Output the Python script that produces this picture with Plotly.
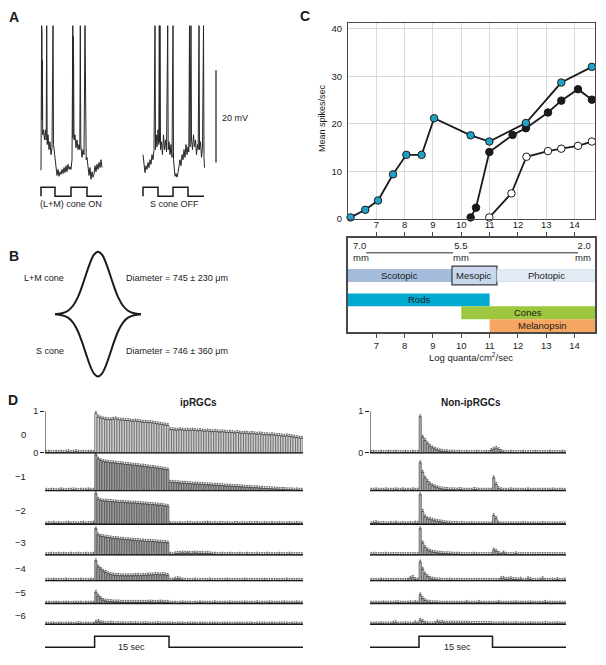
import numpy as np
import plotly.graph_objects as go

# The page body has an 8 px margin, so the figure is drawn 8 px smaller and
# every reference pixel position p is mapped to figure pixel p - 8.
PAGE_OFF = 8
W, H = 606 - PAGE_OFF, 665 - PAGE_OFF
FONT = "Liberation Sans, Arial, Helvetica, sans-serif"
INK = "#1a1a1a"


def fx(p):
    return (p - PAGE_OFF) / W


def fy(p):
    return 1 - (p - PAGE_OFF) / H


def dom_x(a, b):
    return [fx(a), fx(b)]


def dom_y(top, bottom):
    return [fy(bottom), fy(top)]


# ======================= Panel A data (time ms, mV above rest) =======================
lm_t = [0, 6, 8, 10, 12, 14, 17, 25, 35, 45, 52, 57, 62, 70, 80, 90, 100, 110, 120, 125, 132, 140,
        148, 155, 160, 170, 180, 190, 200, 210, 220, 230, 240, 250, 260, 270, 280, 290, 300, 310,
        318, 320, 322, 324, 326, 330, 340, 350, 360, 370, 380, 388, 393, 398, 410, 420, 430, 440,
        445, 452, 460, 470, 480, 490, 500, 510, 520, 530, 540, 550, 560, 570, 580, 590, 600, 610]
lm_v = [0.9, 32.3, 8.0, 31.0, 11.8, 24.7, 8.6, 9.7, 7.5, 9.7, 7.5, 32.3, 6.5, 8.6, 5.4, 7.1, 4.3,
        5.8, 32.3, 6.5, 4.9, 3.2, 1.5, 0.6, -0.2, 1.1, -0.4, 0.6, 0.0, 1.1, 0.2, 1.5, 0.4, 1.9, 0.6,
        2.2, 1.1, 1.7, 1.1, 3.2, 32.3, 8.0, 30.0, 16.1, 24.7, 7.5, 8.6, 5.8, 7.5, 5.4, 6.5, 5.4,
        32.3, 6.5, 3.7, 5.4, 4.3, 32.3, 5.4, 3.2, 3.7, 1.1, -0.2, 1.5, -1.1, 0.6, -0.6, 0.0, 1.9,
        0.6, 2.2, 1.1, 2.6, 1.5, 3.2, 1.5]
s_t = [1020, 1030, 1040, 1050, 1060, 1070, 1080, 1090, 1100, 1110, 1120, 1130, 1140, 1145, 1152,
       1160, 1170, 1178, 1183, 1186, 1190, 1195, 1205, 1215, 1225, 1235, 1245, 1255, 1267, 1272,
       1280, 1290, 1300, 1310, 1320, 1325, 1332, 1340, 1350, 1360, 1370, 1380, 1390, 1400, 1410,
       1420, 1430, 1440, 1450, 1460, 1470, 1478, 1485, 1490, 1495, 1500, 1505, 1515, 1525, 1535,
       1545, 1555, 1565, 1572, 1580, 1585, 1595, 1605, 1615, 1625, 1630, 1635]
s_v = [4.3, 2.6, 0.4, 1.9, 1.1, 2.6, 1.5, 3.2, 2.2, 4.3, 3.2, 5.4, 32.3, 5.4, 8.6, 6.0, 9.7, 6.5,
       32.3, 7.0, 32.3, 5.4, 7.1, 4.3, 8.6, 5.4, 7.5, 4.9, 32.3, 5.4, 7.1, 4.3, 6.5, 3.7, 32.3, 3.2,
       0.2, -0.4, 0.2, -0.6, 0.4, 2.2, 3.2, 1.9, 4.3, 3.2, 5.4, 3.7, 6.5, 4.3, 6.0, 4.9, 32.3, 6.0,
       31.0, 32.3, 7.5, 5.4, 8.6, 6.0, 7.5, 4.3, 6.5, 5.4, 32.3, 5.4, 7.1, 3.7, 5.8, 32.3, 3.7, 1.5]
lm_stim_t = [0, 0, 140, 140, 300, 300, 460, 460, 610]
lm_stim_v = [0, 1, 1, 0, 0, 1, 1, 0, 0]
s_stim_t = [1020, 1020, 1170, 1170, 1320, 1320, 1470, 1470, 1630]
s_stim_v = [0, 1, 1, 0, 0, 1, 1, 0, 0]
scale_bar_mv = 20

# ======================= Panel B data =======================
rf_x = [-43, -36, -30, -25, -20, -16, -12, -8, -4, 0, 4, 8, 12, 16, 20, 25, 30, 36, 43]
rf_lm = [0, 1, 3.5, 8.5, 17.5, 28, 40, 51.6, 60, 63, 60, 51.6, 40, 28, 17.5, 8.5, 3.5, 1, 0]
rf_s = [0, -1, -3.5, -8.5, -17.5, -28, -40, -51.6, -60, -63, -60, -51.6, -40, -28, -17.5, -8.5,
        -3.5, -1, 0]

# ======================= Panel C data =======================
cyan_x = [6.09, 6.61, 7.06, 7.59, 8.06, 8.6, 9.04, 10.33, 10.99, 12.28, 13.53, 14.61]
cyan_y = [0.35, 1.95, 3.9, 9.4, 13.5, 13.5, 21.2, 17.6, 16.3, 20.2, 28.7, 32.0]
black_x = [10.33, 10.52, 10.99, 11.81, 12.28, 13.06, 13.53, 14.12, 14.61]
black_y = [0.35, 2.4, 14.1, 17.7, 19.1, 22.4, 24.9, 27.3, 25.1]
white_x = [10.99, 11.77, 12.3, 13.06, 13.53, 14.12, 14.61]
white_y = [0.35, 5.4, 13.1, 14.3, 14.8, 15.4, 16.3]
log_ticks = [7, 8, 9, 10, 11, 12, 13, 14]
rate_ticks = [0, 10, 20, 30, 40]

vision_names = ["Scotopic", "Mesopic", "Photopic"]
vision_start = [6.0, 9.67, 11.26]
vision_end = [9.67, 11.26, 14.72]
receptor_names = ["Rods", "Cones", "Melanopsin"]
receptor_start = [6.0, 10.0, 11.0]
receptor_end = [11.0, 14.72, 14.72]
pupil_labels = ["7.0", "5.5", "2.0"]

# ======================= Panel D data (% of max, 0.5 s bins) =======================
ip_rows = [
    [1, 2, 1, 1, 2, 1, 2, 1, 2, 3, 1, 2, 3, 2, 1, 2, 1, 2, 2, 1,
     95, 86, 84, 82, 81, 80, 80, 81, 82, 80, 79, 79, 78, 78, 77, 76, 77, 76, 75, 74, 74, 73, 73, 72,
     71, 70, 69, 68, 67, 66,
     56, 56, 55, 55, 56, 55, 54, 55, 54, 55, 54, 53, 54, 53, 52, 53, 52, 51, 52, 51, 50, 51, 50, 49,
     50, 49, 48, 49, 48, 47, 48, 47, 46, 47, 46, 45, 46, 45, 44, 44, 43, 44, 43, 42, 42, 41, 40, 41,
     40, 39, 38, 37, 36, 35],
    [1, 0, 1, 1, 0, 1, 2, 1, 0, 1, 1, 2, 1, 0, 1, 1, 1, 2, 1, 1,
     86, 76, 72, 70, 69, 68, 67, 67, 66, 65, 65, 64, 63, 63, 62, 61, 61, 60, 59, 59, 58, 57, 56, 56,
     55, 54, 53, 52, 51, 50,
     20, 20, 19, 19, 18, 18, 18, 17, 17, 16, 16, 16, 15, 15, 14, 14, 14, 13, 13, 13, 12, 12, 11, 11,
     11, 10, 10, 10, 9, 9, 8, 8, 8, 7, 7, 7, 6, 6, 5, 5, 5, 4, 4, 4, 3, 3, 3, 2, 2, 2, 1, 2, 1, 1],
    [1, 2, 1, 3, 1, 2, 1, 1, 2, 3, 1, 2, 1, 1, 2, 3, 1, 2, 2, 3,
     74, 60, 57, 56, 56, 55, 55, 54, 54, 53, 53, 53, 52, 52, 51, 51, 51, 50, 50, 49, 49, 48, 48, 47,
     47, 46, 46, 45, 44, 43,
     2, 1, 1, 1, 2, 1, 1, 2, 2, 1, 1, 2, 1, 2, 2, 3, 2, 1, 2, 1, 2, 2, 1, 2, 1, 1, 2, 2, 1, 2, 1, 1,
     2, 1, 2, 2, 1, 1, 2, 1, 1, 2, 1, 1, 2, 1, 1, 1, 2, 1, 1, 2, 1, 1],
    [1, 1, 2, 1, 1, 2, 1, 2, 1, 1, 2, 1, 1, 2, 1, 1, 2, 1, 1, 2,
     63, 48, 45, 44, 43, 42, 41, 40, 40, 39, 38, 38, 37, 37, 36, 36, 35, 35, 34, 34, 33, 33, 33, 32,
     32, 31, 31, 30, 30, 29,
     2, 1, 3, 4, 4, 5, 4, 5, 4, 4, 5, 4, 4, 4, 3, 4, 3, 2, 2, 1, 1, 2, 1, 1, 2, 1, 1, 1, 2, 1, 1, 2,
     1, 1, 1, 2, 1, 1, 1, 2, 1, 1, 1, 1, 2, 1, 1, 1, 2, 1, 1, 1, 1, 1],
    [1, 1, 1, 2, 1, 1, 1, 1, 2, 1, 1, 1, 1, 1, 2, 1, 1, 1, 2, 1,
     48, 33, 28, 23, 20, 17, 15, 14, 13, 13, 12, 12, 12, 12, 12, 12, 13, 13, 12, 13, 13, 14, 14, 14,
     15, 15, 14, 15, 14, 13,
     1, 2, 4, 5, 4, 2, 1, 1, 1, 1, 2, 1, 1, 1, 1, 1, 2, 1, 1, 1, 1, 1, 1, 2, 1, 1, 1, 1, 1, 1, 2, 1,
     1, 1, 1, 1, 1, 1, 2, 1, 1, 1, 1, 1, 1, 1, 1, 2, 1, 1, 1, 1, 1, 1],
    [1, 1, 0, 1, 1, 1, 0, 1, 1, 1, 0, 1, 1, 1, 1, 0, 1, 1, 1, 1,
     27, 18, 12, 8, 6, 5, 5, 4, 4, 4, 3, 3, 3, 3, 3, 3, 3, 3, 3, 3, 3, 3, 4, 3, 3, 3, 4, 3, 3, 3,
     1, 1, 1, 0, 1, 2, 1, 1, 1, 0, 1, 1, 2, 1, 1, 1, 1, 1, 2, 1, 1, 1, 1, 1, 2, 1, 1, 1, 1, 1, 2, 1,
     1, 1, 1, 2, 1, 1, 1, 1, 2, 1, 1, 1, 1, 1, 2, 1, 1, 1, 1, 2, 1, 1],
    [1, 0, 1, 1, 0, 1, 1, 0, 1, 1, 1, 0, 1, 2, 1, 0, 1, 1, 0, 1,
     5, 7, 4, 3, 2, 2, 3, 2, 1, 2, 1, 2, 1, 1, 2, 1, 2, 1, 1, 1, 2, 1, 1, 1, 1, 2, 1, 1, 1, 1,
     1, 1, 0, 1, 1, 1, 0, 1, 1, 1, 1, 0, 1, 1, 1, 0, 1, 1, 1, 1, 0, 1, 1, 1, 1, 0, 1, 1, 1, 1, 0, 1,
     1, 1, 0, 1, 1, 1, 1, 0, 1, 1, 1, 0, 1, 1, 1, 1, 0, 1, 1, 1, 0, 1],
]
non_rows = [
    [1, 2, 1, 1, 2, 1, 1, 2, 1, 1, 2, 1, 1, 1, 2, 1, 1, 2, 1, 1,
     87, 38, 30, 22, 16, 12, 9, 7, 5, 4, 3, 3, 2, 2, 2, 1, 2, 1, 1, 2, 1, 1, 1, 2, 1, 1, 1, 2, 1, 6,
     9, 11, 8, 4, 2, 1, 1, 2, 1, 1, 1, 1, 2, 1, 1, 1, 1, 2, 1, 1, 1, 1, 1, 2, 1, 1, 1, 1, 2, 1],
    [1, 1, 2, 1, 1, 1, 2, 1, 1, 1, 2, 1, 1, 2, 1, 1, 1, 2, 1, 1,
     67, 44, 30, 22, 16, 12, 9, 7, 5, 4, 3, 3, 2, 2, 2, 1, 3, 2, 1, 1, 1, 1, 3, 2, 1, 1, 1, 1, 1, 1,
     31, 15, 5, 2, 1, 1, 1, 2, 1, 1, 1, 1, 1, 1, 2, 1, 1, 1, 1, 1, 1, 1, 1, 1, 2, 1, 1, 1, 1, 1],
    [1, 3, 4, 2, 1, 2, 1, 1, 2, 1, 3, 1, 1, 2, 1, 1, 2, 1, 3, 2,
     71, 31, 18, 13, 12, 10, 8, 7, 6, 5, 4, 3, 3, 2, 2, 2, 1, 2, 1, 1, 1, 2, 1, 1, 1, 1, 1, 1, 1, 1,
     21, 14, 3, 1, 1, 1, 1, 1, 1, 1, 1, 1, 2, 1, 1, 1, 1, 1, 1, 1, 2, 1, 1, 1, 1, 1, 1, 1, 1, 1],
    [1, 2, 1, 1, 1, 1, 2, 1, 1, 1, 1, 1, 1, 1, 1, 1, 1, 1, 1, 1,
     63, 29, 18, 12, 9, 7, 6, 5, 4, 4, 3, 3, 3, 2, 2, 2, 2, 1, 1, 1, 1, 1, 2, 1, 1, 1, 1, 1, 1, 1,
     12, 9, 4, 2, 5, 2, 1, 1, 1, 3, 1, 1, 1, 1, 1, 1, 1, 1, 1, 1, 1, 1, 1, 1, 1, 1, 1, 1, 1, 1],
    [1, 1, 1, 1, 2, 1, 1, 1, 1, 1, 1, 1, 1, 1, 1, 2, 6, 8, 3, 2,
     45, 28, 16, 10, 6, 4, 3, 2, 2, 1, 1, 1, 2, 1, 1, 1, 1, 1, 1, 1, 1, 1, 1, 1, 1, 1, 1, 1, 1, 1,
     1, 1, 1, 5, 6, 3, 4, 5, 3, 3, 2, 4, 1, 1, 5, 3, 1, 1, 1, 2, 5, 1, 1, 1, 2, 1, 3, 1, 1, 2],
    [1, 1, 1, 1, 1, 2, 1, 1, 1, 1, 2, 2, 1, 1, 1, 1, 2, 1, 3, 1,
     21, 12, 7, 4, 3, 2, 2, 2, 1, 1, 1, 1, 1, 1, 1, 1, 1, 1, 1, 3, 1, 1, 1, 1, 3, 1, 1, 1, 1, 1,
     1, 1, 3, 1, 1, 1, 1, 1, 1, 2, 1, 1, 1, 1, 1, 2, 1, 1, 1, 1, 1, 3, 1, 1, 1, 1, 1, 1, 1, 1],
    [1, 1, 1, 1, 2, 1, 1, 1, 1, 3, 4, 1, 1, 1, 2, 1, 1, 1, 4, 1,
     10, 7, 3, 2, 1, 1, 2, 6, 4, 5, 3, 3, 3, 3, 3, 3, 3, 3, 3, 3, 3, 2, 2, 2, 2, 2, 2, 2, 2, 2,
     1, 1, 1, 1, 2, 1, 1, 1, 1, 2, 1, 1, 1, 1, 1, 2, 1, 1, 1, 1, 1, 2, 1, 1, 1, 1, 2, 1, 1, 1],
]
row_labels = ["0", "\u22121", "\u22122", "\u22123", "\u22124", "\u22125", "\u22126"]
bin_w = 0.5
ip_t_start, ip_t_end = -10, 42
non_t_start, non_t_end = -10, 30
light_on, light_off = 0, 15

# ======================= layout constants =======================
ROW_BASE = [4.119, 3.214, 2.405, 1.667, 1.048, 0.5, 0.0]
ROW_LABEL_PX = [437, 480, 514, 546, 573, 597, 620]

fig = go.Figure()

# ---------- Panel A ----------
for t, v in ((lm_t, lm_v), (s_t, s_v)):
    fig.add_trace(go.Scatter(x=t, y=v, mode="lines", line=dict(color="#262626", width=1),
                             xaxis="x", yaxis="y", hoverinfo="skip"))
for t, v in ((lm_stim_t, lm_stim_v), (s_stim_t, s_stim_v)):
    fig.add_trace(go.Scatter(x=t, y=v, mode="lines", line=dict(color=INK, width=1.5),
                             xaxis="x", yaxis="y2", hoverinfo="skip"))
fig.add_trace(go.Scatter(x=[1750, 1750], y=[2.6, 2.6 + scale_bar_mv], mode="lines",
                         line=dict(color="#444", width=1.5), xaxis="x", yaxis="y", hoverinfo="skip"))

# ---------- Panel B ----------
for yy in (rf_lm, rf_s):
    fig.add_trace(go.Scatter(x=rf_x, y=yy, mode="lines", line=dict(color=INK, width=2, shape="spline"),
                             xaxis="x3", yaxis="y3", hoverinfo="skip"))

# ---------- Panel C: line chart ----------
for xs, ys, fill in ((white_x, white_y, "white"), (black_x, black_y, INK), (cyan_x, cyan_y, "#1fa2c4")):
    fig.add_trace(go.Scatter(x=xs, y=ys, mode="lines+markers", cliponaxis=False,
                             line=dict(color=INK, width=1.8),
                             marker=dict(size=7.5, color=fill, line=dict(color=INK, width=1)),
                             xaxis="x4", yaxis="y4", hoverinfo="skip"))

# ---------- Panel C: bands ----------
vis_colors = ["#a5bddd", "#c8d7ec", "#e4ebf5"]
vis_height = [1.2, 1.9, 1.2]
vis_line = [dict(color="#8ea5c8", width=0.6), dict(color="#3a3a3a", width=1.2),
            dict(color="#c8d3e3", width=0.6)]
for i in range(3):
    fig.add_trace(go.Bar(y=[3.8], x=[vision_end[i] - vision_start[i]], base=[vision_start[i]],
                         orientation="h", width=vis_height[i], marker=dict(color=vis_colors[i], line=vis_line[i]),
                         xaxis="x5", yaxis="y5", hoverinfo="skip"))
rec_colors = ["#00a9cf", "#9dc73e", "#f6a660"]
rec_pos = [6.25, 7.55, 8.85]
for i in range(3):
    fig.add_trace(go.Bar(y=[rec_pos[i]], x=[receptor_end[i] - receptor_start[i]], base=[receptor_start[i]],
                         orientation="h", width=1.3, marker=dict(color=rec_colors[i], line=dict(width=0)),
                         xaxis="x5", yaxis="y5", hoverinfo="skip"))
fig.add_trace(go.Scatter(x=[None], y=[None], xaxis="x6", yaxis="y5", showlegend=False, hoverinfo="skip"))

# ---------- Panel D ----------
ip_t = np.arange(ip_t_start, ip_t_end, bin_w) + bin_w / 2
non_t = np.arange(non_t_start, non_t_end, bin_w) + bin_w / 2
for col, (rows, tt, xa, ya) in enumerate(((ip_rows, ip_t, "x7", "y7"), (non_rows, non_t, "x9", "y9"))):
    for i, vals in enumerate(rows):
        if col == 0:
            color = "#cdcdcd" if i == 0 else "#9c9c9c"
        else:
            color = "#a9a9a9"
        fig.add_trace(go.Bar(
            x=tt, y=np.array(vals) / 100.0, base=ROW_BASE[i], width=bin_w,
            marker=dict(color=color, line=dict(color="#2a2a2a", width=0.45)),
            error_y=dict(type="constant", value=0.045, valueminus=0, symmetric=False,
                         thickness=0.6, width=1, color="#333"),
            xaxis=xa, yaxis=ya, hoverinfo="skip"))

for t0, t1, xa, ya in ((ip_t_start, ip_t_end, "x7", "y8"), (non_t_start, non_t_end, "x9", "y10")):
    fig.add_trace(go.Scatter(x=[t0, light_on, light_on, light_off, light_off, t1], y=[0, 0, 1, 1, 0, 0],
                             mode="lines", line=dict(color=INK, width=1.5), xaxis=xa, yaxis=ya,
                             hoverinfo="skip"))

shapes = []
for xr, yr, t0, t1 in (("x7", "y7", ip_t_start, ip_t_end), ("x9", "y9", non_t_start, non_t_end)):
    for b in ROW_BASE:
        shapes.append(dict(type="line", xref=xr, yref=yr, x0=t0, x1=t1, y0=b, y1=b,
                           line=dict(color=INK, width=1.3), layer="above"))
    shapes.append(dict(type="line", xref=xr, yref=yr, x0=t0, x1=t0, y0=ROW_BASE[0], y1=ROW_BASE[0] + 1,
                       line=dict(color=INK, width=1), layer="above"))
# pupil scale lines in box
shapes.append(dict(type="line", xref="x5", yref="y5", x0=6.64, x1=9.71, y0=1.5, y1=1.5,
                   line=dict(color="#6e6e6e", width=1.6)))
shapes.append(dict(type="line", xref="x5", yref="y5", x0=10.27, x1=14.12, y0=1.5, y1=1.5,
                   line=dict(color="#6e6e6e", width=1.6)))

ann = []


def add_text(text, x, y, size=9.5, xanchor="center", yanchor="middle", bold=False, **kw):
    d = dict(text=("<b>%s</b>" % text) if bold else text, x=x, y=y, showarrow=False,
             xanchor=xanchor, yanchor=yanchor, font=dict(family=FONT, size=size, color=INK))
    d.setdefault("xref", "paper")
    d.setdefault("yref", "paper")
    d.update(kw)
    ann.append(d)


# panel letters
add_text("A", fx(14), fy(16), size=14, bold=True)
add_text("B", fx(14), fy(257), size=14, bold=True)
add_text("C", fx(305), fy(15), size=14, bold=True)
add_text("D", fx(13), fy(403), size=14, bold=True)

# A texts
add_text("%d mV" % scale_bar_mv, fx(220), fy(118), size=9, xanchor="left")
add_text("(L+M) cone ON", fx(71), fy(205), size=9)
add_text("S cone OFF", fx(174), fy(205), size=9)

# B texts
add_text("L+M cone", fx(66), fy(279), size=9, xanchor="right")
add_text("Diameter = 745 \u00b1 230 \u03bcm", fx(124), fy(279), size=9, xanchor="left")
add_text("S cone", fx(66), fy(353), size=9, xanchor="right")
add_text("Diameter = 746 \u00b1 360 \u03bcm", fx(124), fy(353), size=9, xanchor="left")

# C texts
add_text("Mean spikes/sec", fx(322), fy(118), size=9, textangle=-90)
add_text("Log quanta/cm<sup>2</sup>/sec", fx(471), fy(359), size=9.5)
for i in range(3):
    add_text(vision_names[i], (vision_start[i] + vision_end[i]) / 2, 3.8, xref="x5", yref="y5")
    add_text(receptor_names[i], (receptor_start[i] + receptor_end[i]) / 2, rec_pos[i],
             xref="x5", yref="y5")
add_text(pupil_labels[0] + "<br>mm", 6.12, 1.35, xanchor="left", xref="x5", yref="y5", align="left")
add_text(pupil_labels[1] + "<br>mm", 9.98, 1.35, xref="x5", yref="y5")
add_text(pupil_labels[2] + "<br>mm", 14.64, 1.35, xanchor="right", xref="x5", yref="y5", align="right")

# D texts
add_text("ipRGCs", fx(198), fy(405), size=10, bold=True)
add_text("Non-ipRGCs", fx(471), fy(405), size=10, bold=True)
for lab, ypx in zip(row_labels, ROW_LABEL_PX):
    add_text(lab, fx(28), fy(ypx), xanchor="right")
add_text("15 sec", fx(131), fy(652), size=9)
add_text("15 sec", fx(457), fy(652), size=9)

hidden = dict(visible=False, fixedrange=True)

layout = dict(
    width=W, height=H, margin=dict(l=0, r=0, t=0, b=0), autosize=False,
    paper_bgcolor="white", plot_bgcolor="white", showlegend=False, barmode="overlay",
    font=dict(family=FONT, size=9.5, color=INK), hovermode=False,
    # A
    xaxis=dict(domain=dom_x(30, 250), range=[-110, 2090], anchor="y", **hidden),
    yaxis=dict(domain=dom_y(20, 180), range=[-1.075, 33.33], anchor="x", **hidden),
    yaxis2=dict(domain=dom_y(185, 200), range=[-0.333, 1.333], anchor="x", **hidden),
    # B
    xaxis3=dict(domain=dom_x(40, 160), range=[-58, 62], anchor="y3", **hidden),
    yaxis3=dict(domain=dom_y(240, 395), range=[-79, 76], anchor="x3", **hidden),
    # C line chart
    xaxis4=dict(domain=dom_x(348, 595), range=[6.0, 14.72], anchor="y4", tickvals=log_ticks,
                showticklabels=False, ticks="", showgrid=True, gridcolor="#dadada", gridwidth=1,
                showline=True, mirror=True, linecolor="#4a4a4a", linewidth=1, zeroline=False),
    yaxis4=dict(domain=dom_y(22, 220), range=[0, 41.25], anchor="x4", tickvals=rate_ticks,
                ticks="", showgrid=True, gridcolor="#dadada", gridwidth=1, showline=True, mirror=True,
                linecolor="#4a4a4a", linewidth=1, zeroline=False, tickfont=dict(size=9.5),
                ticklabelstandoff=3),
    # C box
    xaxis5=dict(domain=dom_x(348, 595), range=[6.0, 14.72], anchor="y5", tickvals=log_ticks,
                ticks="outside", ticklen=4, tickcolor="#4a4a4a", showgrid=False, showline=True,
                mirror=True, linecolor="#4a4a4a", linewidth=1.5, zeroline=False, tickfont=dict(size=9.5)),
    xaxis6=dict(range=[6.0, 14.72], anchor="y5", overlaying="x5", side="top", tickvals=log_ticks,
                ticks="outside", ticklen=5, tickcolor="#4a4a4a", showgrid=False, showline=False,
                zeroline=False, tickfont=dict(size=9.5)),
    yaxis5=dict(domain=dom_y(239, 334), range=[9.5, 0], anchor="x5", showticklabels=False, ticks="",
                showgrid=False, showline=True, mirror=True, linecolor="#4a4a4a", linewidth=1.5,
                zeroline=False),
    # D left
    xaxis7=dict(domain=dom_x(45, 303), range=[ip_t_start, ip_t_end], anchor="y7", **hidden),
    yaxis7=dict(domain=dom_y(410.6, 631.1), range=[-0.05, 5.2], anchor="x7",
                tickvals=[ROW_BASE[0], ROW_BASE[0] + 1], ticktext=["0", "1"], ticks="outside",
                ticklen=4, tickcolor=INK, showline=False, showgrid=False, zeroline=False,
                tickfont=dict(size=9)),
    yaxis8=dict(domain=dom_y(636, 655), range=[-0.27, 1.45], anchor="x7", **hidden),
    # D right
    xaxis9=dict(domain=dom_x(370, 566), range=[non_t_start, non_t_end], anchor="y9", **hidden),
    yaxis9=dict(domain=dom_y(410.6, 631.1), range=[-0.05, 5.2], anchor="x9",
                tickvals=[ROW_BASE[0], ROW_BASE[0] + 1], ticktext=["0", "1"], ticks="outside",
                ticklen=4, tickcolor=INK, showline=False, showgrid=False, zeroline=False,
                tickfont=dict(size=9)),
    yaxis10=dict(domain=dom_y(636, 655), range=[-0.27, 1.45], anchor="x9", **hidden),
    shapes=shapes, annotations=ann,
)
fig.update_layout(**layout)
fig.write_html("out.html", config={"displayModeBar": False})
